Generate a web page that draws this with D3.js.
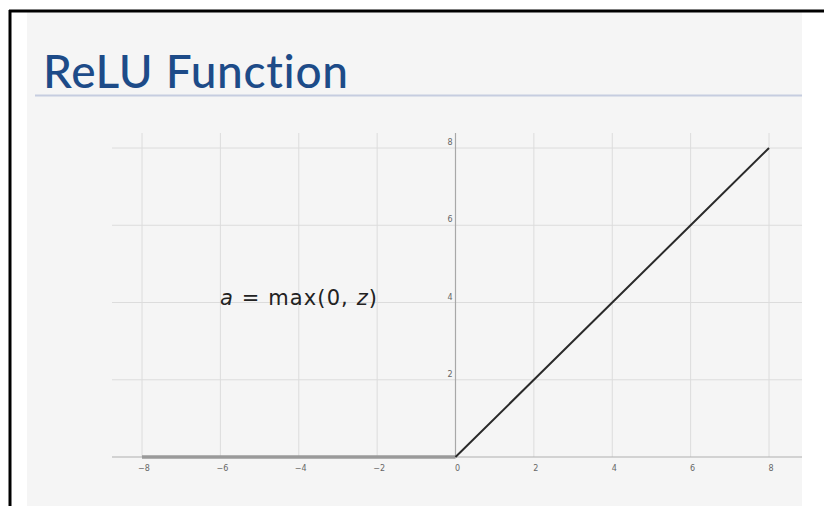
<!DOCTYPE html>
<html>
<head>
<meta charset="utf-8">
<script src="https://cdn.jsdelivr.net/npm/d3@7"></script>
<style>
  body { margin: 0; background: #fff; }
  svg { display: block; }
  text { font-variant-ligatures: none; }
</style>
</head>
<body>
<svg id="chart" width="824" height="506"></svg>
<script>
// data
var zValues = [-8, -6, -4, -2, 0, 2, 4, 6, 8];
var aValues = [0, 0, 0, 0, 0, 2, 4, 6, 8];
var xTicks = [-8, -6, -4, -2, 0, 2, 4, 6, 8];
var yTicks = [2, 4, 6, 8];

var svg = d3.select('#chart');

// slide frame + background
svg.append('rect').attr('x', 27).attr('y', 12).attr('width', 775).attr('height', 494).attr('fill', '#f5f5f5');
svg.append('line').attr('x1', 10).attr('x2', 10).attr('y1', 10).attr('y2', 506).attr('stroke', '#000').attr('stroke-width', 3);
svg.append('line').attr('x1', 9).attr('x2', 824).attr('y1', 11).attr('y2', 11).attr('stroke', '#000').attr('stroke-width', 3);

// title
svg.append('text')
  .attr('x', 43).attr('y', 88)
  .attr('font-family', 'Lato, "Open Sans", sans-serif')
  .attr('font-size', 46)
  .attr('font-weight', 500)
  .attr('fill', '#1d4b88')
  .attr('textLength', 305)
  .attr('lengthAdjust', 'spacing')
  .text('ReLU Function');
svg.append('line').attr('x1', 35).attr('x2', 802).attr('y1', 95.5).attr('y2', 95.5)
  .attr('stroke', '#c6cde0').attr('stroke-width', 2);

var x = d3.scaleLinear().domain([-8, 8]).range([142, 769]);
var y = d3.scaleLinear().domain([0, 8]).range([457, 148]);

var g = svg.append('g');

// grid
g.selectAll('.vgrid').data(xTicks).enter().append('line')
  .attr('x1', d => x(d)).attr('x2', d => x(d))
  .attr('y1', 133).attr('y2', y(0))
  .attr('stroke', '#dcdcdc').attr('stroke-width', 1);
g.selectAll('.hgrid').data(yTicks).enter().append('line')
  .attr('x1', 112).attr('x2', 802)
  .attr('y1', d => y(d)).attr('y2', d => y(d))
  .attr('stroke', '#dcdcdc').attr('stroke-width', 1);

// axes lines
g.append('line').attr('x1', 112).attr('x2', 802).attr('y1', y(0)).attr('y2', y(0))
  .attr('stroke', '#b0b0b0').attr('stroke-width', 1.2);
g.append('line').attr('x1', x(0)).attr('x2', x(0)).attr('y1', 133).attr('y2', y(0))
  .attr('stroke', '#a8a8a8').attr('stroke-width', 1.2);

// tick labels
g.selectAll('.xl').data(xTicks).enter().append('text')
  .attr('x', d => x(d) + 2).attr('y', y(0) + 14)
  .attr('text-anchor', 'middle')
  .attr('font-family', 'DejaVu Sans, sans-serif').attr('font-size', 8)
  .attr('fill', '#666')
  .text(d => d < 0 ? '\u2212' + Math.abs(d) : d);
g.selectAll('.yl').data(yTicks).enter().append('text')
  .attr('x', x(0) - 3).attr('y', d => y(d) - 3)
  .attr('text-anchor', 'end')
  .attr('font-family', 'DejaVu Sans, sans-serif').attr('font-size', 8)
  .attr('fill', '#666')
  .text(d => d);

// ReLU curve: flat part drawn gray, rising part dark
var pts = zValues.map((z, i) => [z, aValues[i]]);
var line = d3.line().x(d => x(d[0])).y(d => y(d[1]));
g.append('path').datum(pts.filter(d => d[0] <= 0))
  .attr('d', line).attr('fill', 'none')
  .attr('stroke', '#9a9a9a').attr('stroke-width', 3.5);
g.append('path').datum(pts.filter(d => d[0] >= 0))
  .attr('d', line).attr('fill', 'none')
  .attr('stroke', '#2a2a2a').attr('stroke-width', 2);

// formula
var f = svg.append('text')
  .attr('x', 220).attr('y', 305)
  .attr('font-family', '"DejaVu Sans", sans-serif')
  .attr('font-size', 21)
  .attr('fill', '#222')
  .attr('textLength', 157)
  .attr('lengthAdjust', 'spacing');
f.append('tspan').attr('font-style', 'italic').text('a');
f.append('tspan').text(' = max(0, ');
f.append('tspan').attr('font-style', 'italic').text('z');
f.append('tspan').text(')');
</script>
</body>
</html>
